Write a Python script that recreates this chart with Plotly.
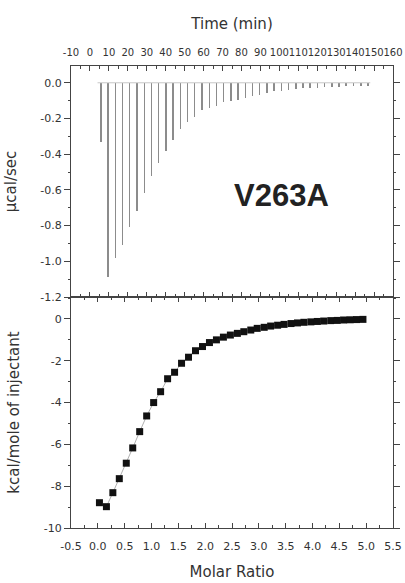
import plotly.graph_objects as go

# ---- Top panel: raw ITC thermogram (injection times and peak heights) ----
inj_time_min = [5.8, 9.6, 13.4, 17.2, 21.0, 24.9, 28.7, 32.5, 36.3, 40.1,
                43.9, 47.7, 51.5, 55.3, 59.1, 63.0, 66.8, 70.6, 74.4, 78.2,
                82.0, 85.8, 89.6, 93.4, 97.2, 101.1, 104.9, 108.7, 112.5, 116.3,
                120.1, 123.9, 127.7, 131.5, 135.3, 139.2, 143.0, 146.8]
peak_ucal_sec = [-0.33, -1.09, -0.98, -0.91, -0.81, -0.72, -0.62, -0.52, -0.45, -0.38,
                 -0.32, -0.26, -0.22, -0.19, -0.15, -0.14, -0.13, -0.11, -0.10, -0.094,
                 -0.085, -0.076, -0.067, -0.057, -0.048, -0.044, -0.039, -0.035, -0.032, -0.030,
                 -0.028, -0.026, -0.024, -0.022, -0.020, -0.019, -0.018, -0.017]
baseline_time = [4.0, 148.0]
baseline_val = [0.0, 0.0]

# ---- Bottom panel: integrated heats ----
molar_ratio = [0.03, 0.16, 0.28, 0.40, 0.53, 0.65, 0.78, 0.91, 1.04, 1.17,
               1.30, 1.43, 1.56, 1.69, 1.82, 1.95, 2.08, 2.21, 2.34, 2.47,
               2.60, 2.72, 2.85, 2.97, 3.10, 3.22, 3.35, 3.47, 3.60, 3.72,
               3.84, 3.97, 4.09, 4.21, 4.34, 4.46, 4.58, 4.70, 4.82, 4.94]
kcal_per_mole = [-8.79, -8.98, -8.31, -7.64, -6.90, -6.17, -5.39, -4.64, -4.00, -3.48,
                 -2.86, -2.55, -2.12, -1.83, -1.52, -1.32, -1.13, -1.00, -0.87, -0.77,
                 -0.69, -0.61, -0.53, -0.45, -0.40, -0.34, -0.30, -0.26, -0.22, -0.19,
                 -0.16, -0.14, -0.12, -0.10, -0.08, -0.07, -0.05, -0.04, -0.03, -0.02]

time_ticks = [-10, 0, 10, 20, 30, 40, 50, 60, 70, 80, 90, 100, 110, 120, 130, 140, 150, 160]
time_labels = ["-10", "0", "10", "20", "30", "40", "50", "60", "70", "80", "90",
               "100", "110", "120", "130", "140", "150", "160"]
ratio_ticks = [-0.5, 0.0, 0.5, 1.0, 1.5, 2.0, 2.5, 3.0, 3.5, 4.0, 4.5, 5.0, 5.5]
ratio_labels = ["-0.5", "0.0", "0.5", "1.0", "1.5", "2.0", "2.5", "3.0", "3.5", "4.0", "4.5", "5.0", "5.5"]
ucal_ticks = [0.0, -0.2, -0.4, -0.6, -0.8, -1.0, -1.2]
ucal_labels = ["0.0", "-0.2", "-0.4", "-0.6", "-0.8", "-1.0", "-1.2"]
kcal_ticks = [0, -2, -4, -6, -8, -10]
kcal_labels = ["0", "-2", "-4", "-6", "-8", "-10"]

FONT = "DejaVu Sans, Verdana, sans-serif"
BOLD_FONT = "Liberation Sans, Arial, sans-serif"
LINE = "#444444"
TXT = "#333333"
TICKFONT = dict(family=FONT, size=11, color=TXT)
TITLEFONT = dict(family=FONT, size=15, color=TXT)

fig = go.Figure()

fig.add_trace(go.Scatter(x=baseline_time, y=baseline_val, mode="lines",
                         line=dict(color="#c8c8c8", width=1),
                         xaxis="x2", yaxis="y2", showlegend=False, hoverinfo="skip"))
fig.add_trace(go.Bar(x=inj_time_min, y=peak_ucal_sec, width=0.8,
                     marker=dict(color="#8c8c8c", line=dict(width=0)),
                     xaxis="x2", yaxis="y2", showlegend=False))

fig.add_trace(go.Scatter(x=molar_ratio, y=kcal_per_mole, mode="lines+markers",
                         line=dict(color="#b0b0b0", width=1),
                         marker=dict(symbol="square", size=7, color="#111111"),
                         xaxis="x", yaxis="y", showlegend=False))

common_x = dict(showline=True, linecolor=LINE, linewidth=1, mirror="ticks",
                ticks="inside", ticklen=5, tickcolor=LINE, showgrid=False, zeroline=False,
                tickangle=0, automargin=False, ticklabeloverflow="allow")

common_y = dict(showline=True, linecolor=LINE, linewidth=1, mirror="ticks",
                ticks="outside", ticklen=6, tickcolor=LINE, showgrid=False, zeroline=False,
                tickfont=TICKFONT, automargin=False, tickmode="array")

fig.update_layout(
    width=405, height=583,
    margin=dict(l=71, r=12, t=66, b=55),
    paper_bgcolor="white", plot_bgcolor="white",
    bargap=0,
    font=dict(family=FONT, color=TXT),
    xaxis=dict(common_x, domain=[0, 1], anchor="y", range=[-0.5, 5.5],
               tickmode="array", tickvals=ratio_ticks, ticktext=ratio_labels,
               tickfont=TICKFONT, ticklabelstandoff=8,
               minor=dict(ticks="inside", ticklen=3, dtick=0.25, tick0=0, tickcolor=LINE),
               title=dict(text="Molar Ratio", font=TITLEFONT, standoff=14)),
    xaxis2=dict(common_x, domain=[0, 1], anchor="y2", side="top", range=[-10, 160],
                tickmode="array", tickvals=time_ticks, ticktext=time_labels,
                tickfont=dict(family=FONT, size=10, color=TXT), ticklabelstandoff=5,
                minor=dict(ticks="inside", ticklen=3, dtick=5, tick0=0, tickcolor=LINE),
                title=dict(text="Time (min)", font=TITLEFONT, standoff=13)),
    yaxis=dict(common_y, domain=[0, 0.5], anchor="x", range=[-10, 1.05],
               tickvals=kcal_ticks, ticktext=kcal_labels,
               minor=dict(ticks="outside", ticklen=2, dtick=1, tick0=0, tickcolor=LINE),
               title=dict(text="kcal/mole of injectant", font=TITLEFONT, standoff=20)),
    yaxis2=dict(common_y, domain=[0.5, 1], anchor="x2", range=[-1.2, 0.094],
                tickvals=ucal_ticks, ticktext=ucal_labels,
                minor=dict(ticks="outside", ticklen=2, dtick=0.1, tick0=0, tickcolor=LINE),
                title=dict(text="µcal/sec", font=TITLEFONT, standoff=20)),
    annotations=[dict(text="<b>V263A</b>", x=101, y=-0.63, xref="x2", yref="y2",
                      showarrow=False, font=dict(family=BOLD_FONT, size=31, color="#222222"))],
)

# remove the browser's default 8px page margin so the figure fills the window exactly
fig.write_html("out.html",
               config={"displayModeBar": False, "staticPlot": True},
               post_script="document.body.style.margin='0';document.body.style.overflow='hidden';")
